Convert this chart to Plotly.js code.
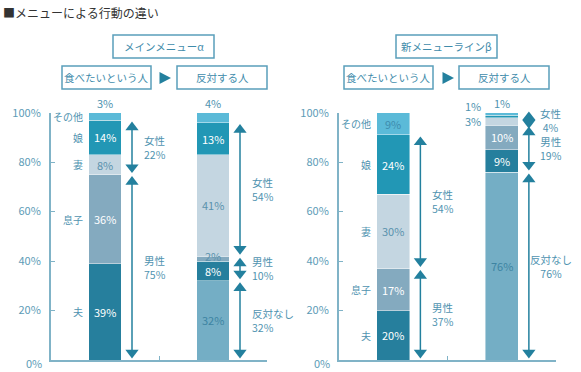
<!DOCTYPE html>
<html><head><meta charset="utf-8">
<script src="https://cdn.plot.ly/plotly-3.0.1.min.js"></script>
<style>html,body{margin:0;padding:0;background:#fff}#chart{width:581px;height:372px}</style>
</head><body><div id="chart"></div>
<script>
// ---------- data ----------
const chartTitle = "■メニューによる行動の違い";
const panelTitles = ["メインメニューα", "新メニューラインβ"];
const barCategories = ["食べたいという人", "反対する人"];
const segmentNames = ["反対なし", "夫", "息子", "妻", "娘", "その他"];
const alphaEat = [0, 39, 36, 8, 14, 3];
const alphaOppose = [32, 8, 2, 41, 13, 4];
const betaEat = [0, 20, 17, 30, 24, 9];
const betaOppose = [76, 9, 10, 3, 1, 1];
const genderGroups = ["男性", "女性", "反対なし"];
const genderMembers = [["夫", "息子"], ["妻", "娘"], ["反対なし"]];
const yTickValues = [0, 20, 40, 60, 80, 100];
const yTickLabels = ["", "20%", "40%", "60%", "80%", "100%"];

// ---------- style ----------
const W = 581, H = 372;
const FONT = "'Noto Sans CJK JP', 'Noto Sans', sans-serif";
const segColors = {"反対なし":"#74aec5","夫":"#267f9d","息子":"#84aabf","妻":"#c4d6e1","娘":"#2297b5","その他":"#5bbad8"};
const segTextColors = {"反対なし":"#3d84a2","夫":"#ffffff","息子":"#ffffff","妻":"#5a92ad","娘":"#ffffff","その他":"#3e8cae"};
const axisColor = "#80b3c7";
const labelColor = "#4f93b0";
const arrowColor = "#23809e";
const Y0 = 360, Y100 = 112.7;               // pixel rows of 0% and 100%
const ppu = (Y0 - Y100) / 100;              // pixels per percentage point
const panelPx = [[51, 267], [339, 556]];    // x pixel extents of each panel
const pxPerX = (panelPx[0][1] - panelPx[0][0]) / 2;
const barWidth = 0.3;
const arrowOffset = 0.25;
const px = x => x / W, py = y => 1 - y / H;

const panels = [
  {xa: "x", ya: "y", bars: [alphaEat, alphaOppose]},
  {xa: "x2", ya: "y2", bars: [betaEat, betaOppose]}
];

const traces = [];
const annotations = [];
const shapes = [];

panels.forEach((pan, pi) => {
  segmentNames.forEach((name, si) => {
    traces.push({
      type: "bar", xaxis: pan.xa, yaxis: pan.ya,
      x: [0, 1], y: pan.bars.map(b => b[si]), width: barWidth,
      marker: {color: segColors[name], line: {color: "rgba(255,255,255,0.55)", width: 0.8}},
      hoverinfo: "skip", showlegend: false
    });
  });

  pan.bars.forEach((vals, bi) => {
    const lo = [], hi = [];
    let acc = 0;
    vals.forEach((v, i) => { lo.push(acc); acc += v; hi.push(acc); });
    const topIdx = vals.length - 1;
    const smallIdx = vals.map((v, i) => (i !== topIdx && v > 0 && v < 4) ? i : -1).filter(i => i >= 0);
    const leftMode = smallIdx.length >= 2;
    const lefts = [];
    for (let i = topIdx; i >= 0; i--) {
      const v = vals[i];
      if (v <= 0) continue;
      const mid = (lo[i] + hi[i]) / 2;
      const name = segmentNames[i];
      if (i === topIdx && v < 5) {
        annotations.push({xref: pan.xa, yref: pan.ya, x: bi, y: 100, xanchor: "center", yanchor: "bottom",
          text: v + "%", showarrow: false, font: {family: FONT, size: 11, color: labelColor}});
      } else if (leftMode && smallIdx.includes(i)) {
        const a = {xref: pan.xa, yref: pan.ya, x: bi, y: mid, xanchor: "right", yanchor: "middle",
          xshift: -(barWidth / 2 * pxPerX + 3), yshift: 0, text: v + "%", showarrow: false,
          font: {family: FONT, size: 11, color: labelColor}};
        annotations.push(a);
        lefts.push({a: a, ypx: Y0 - mid * ppu});
      } else {
        const small = v < 3;
        annotations.push({xref: pan.xa, yref: pan.ya, x: bi, y: mid, xanchor: "center", yanchor: "middle",
          yshift: small ? 3 : 0, text: v + "%", showarrow: false,
          font: {family: FONT, size: 11, color: small ? segTextColors["妻"] : segTextColors[name]}});
      }
      if (bi === 0) {
        annotations.push({xref: pan.xa, yref: pan.ya, x: bi, y: mid, xanchor: "right", yanchor: "middle",
          xshift: -(barWidth / 2 * pxPerX + 4), text: name, showarrow: false,
          font: {family: FONT, size: 10, color: labelColor}});
      }
    }
    for (let k = 1; k < lefts.length; k++) {
      const gap = lefts[k].ypx - lefts[k - 1].ypx;
      if (gap < 15) lefts[k - 1].a.yshift = 15 - gap;
    }

    genderGroups.forEach((g, gi) => {
      const idx = genderMembers[gi].map(m => segmentNames.indexOf(m));
      const sum = idx.reduce((s, i) => s + vals[i], 0);
      if (sum <= 0) return;
      const gLo = lo[Math.min(...idx)], gHi = hi[Math.max(...idx)];
      const r = 5.75;
      let up = gHi - (1.5 + r) / ppu, dn = gLo + (1.5 + r) / ppu;
      if (up - dn < r / ppu) { const m = (gLo + gHi) / 2; up = m + r / 2 / ppu; dn = m - r / 2 / ppu; }
      traces.push({type: "scatter", mode: "lines+markers", xaxis: pan.xa, yaxis: pan.ya,
        x: [bi + arrowOffset, bi + arrowOffset], y: [up, dn],
        line: {color: arrowColor, width: 1.5},
        marker: {symbol: ["triangle-up", "triangle-down"], size: 11.5, color: arrowColor},
        hoverinfo: "skip", showlegend: false, cliponaxis: false});
      const centered = (pi === 1 && bi === 1);
      annotations.push({xref: pan.xa, yref: pan.ya, x: bi + arrowOffset, y: (gLo + gHi) / 2,
        xanchor: centered ? "center" : "left", yanchor: "middle",
        xshift: centered ? 22 : 10, align: centered ? "center" : "left",
        text: g + "<br>" + sum + "%", showarrow: false,
        font: {family: FONT, size: 10.5, color: labelColor}});
    });
  });

  // 0% label (sits a bit below the axis)
  annotations.push({xref: "paper", yref: "paper", x: px(panelPx[pi][0] - 8), y: 0,
    xanchor: "right", yanchor: "bottom", borderpad: 0, text: "0%", showarrow: false,
    font: {family: FONT, size: 11, color: "#5d9cb7"}});
});

// ---------- headers ----------
const headerBoxes = [
  {cx: 163.5, cy: 46.5, w: 101, text: panelTitles[0]},
  {cx: 106.5, cy: 77.5, w: 89, text: barCategories[0]},
  {cx: 222, cy: 77.5, w: 90, text: barCategories[1]},
  {cx: 446.5, cy: 46.5, w: 101, text: panelTitles[1]},
  {cx: 388.5, cy: 77.5, w: 89, text: barCategories[0]},
  {cx: 504, cy: 77.5, w: 90, text: barCategories[1]}
];
headerBoxes.forEach(b => {
  shapes.push({type: "rect", xref: "paper", yref: "paper", layer: "below",
    x0: px(b.cx - b.w / 2), x1: px(b.cx + b.w / 2), y0: py(b.cy + 11.5), y1: py(b.cy - 11.5),
    line: {color: "#5a9fba", width: 1.5}, fillcolor: "rgba(0,0,0,0)"});
  annotations.push({xref: "paper", yref: "paper", x: px(b.cx), y: py(b.cy), xanchor: "center", yanchor: "middle",
    text: b.text, showarrow: false, font: {family: FONT, size: 10.5, color: "#3f8cab"}});
});
[[159.5, 171, 72, 84], [442.5, 454, 72, 84]].forEach(t => {
  shapes.push({type: "path", xref: "paper", yref: "paper",
    path: `M ${px(t[0])} ${py(t[2])} L ${px(t[1])} ${py((t[2] + t[3]) / 2)} L ${px(t[0])} ${py(t[3])} Z`,
    fillcolor: arrowColor, line: {width: 0}});
});

annotations.push({xref: "paper", yref: "paper", x: px(1), y: py(2), xanchor: "left", yanchor: "top",
  text: chartTitle, showarrow: false, font: {family: FONT, size: 12, color: "#333333"}});

// ---------- axes ----------
function xAxis(pi) {
  return {domain: [px(panelPx[pi][0]), px(panelPx[pi][1])], range: [-0.5, 1.5],
    tickmode: "array", tickvals: [-0.5, 0.5, 1.5], ticks: "inside", ticklen: 4, tickwidth: 1,
    tickcolor: axisColor, showticklabels: false, showline: true, linecolor: axisColor, linewidth: 2,
    showgrid: false, zeroline: false, fixedrange: true, anchor: pi ? "y2" : "y"};
}
function yAxis(pi) {
  return {domain: [1 - Y0 / H, 1 - Y100 / H], range: [0, 100], anchor: pi ? "x2" : "x",
    tickmode: "array", tickvals: yTickValues, ticktext: yTickLabels, ticks: "inside", ticklen: 4,
    tickwidth: 1, tickcolor: axisColor, ticklabelstandoff: 6,
    tickfont: {family: FONT, size: 11, color: "#5d9cb7"}, showline: true, linecolor: axisColor,
    linewidth: 2, showgrid: false, zeroline: false, fixedrange: true};
}

const layout = {
  width: W, height: H, margin: {l: 0, r: 0, t: 0, b: 0},
  paper_bgcolor: "#ffffff", plot_bgcolor: "rgba(0,0,0,0)",
  barmode: "stack", showlegend: false,
  xaxis: xAxis(0), yaxis: yAxis(0), xaxis2: xAxis(1), yaxis2: yAxis(1),
  annotations: annotations, shapes: shapes, font: {family: FONT}
};
Plotly.newPlot("chart", traces, layout, {displayModeBar: false, staticPlot: true});
</script>
</body></html>
